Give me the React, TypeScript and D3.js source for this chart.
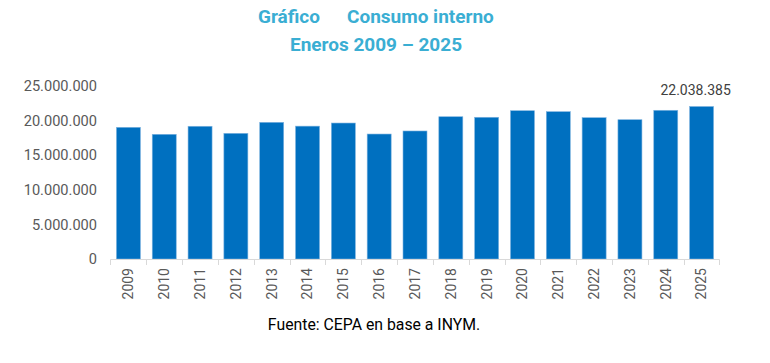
import * as d3 from "d3";

const years = ["2009", "2010", "2011", "2012", "2013", "2014", "2015", "2016", "2017", "2018", "2019", "2020", "2021", "2022", "2023", "2024", "2025"];
const consumo = [19030000, 18020000, 19180000, 18160000, 19750000, 19200000, 19650000, 18060000, 18500000, 20560000, 20480000, 21430000, 21290000, 20420000, 20130000, 21490000, 22038385];
const yTicks = [0, 5000000, 10000000, 15000000, 20000000, 25000000];

const width = 770;
const height = 363;
const font = "Roboto, 'Open Sans', sans-serif";

// separador de miles con punto
const fmt = (v: number) => d3.format(",")(v).replace(/,/g, ".");

export default function App() {
  const x = d3.scaleBand().domain(years).range([110.5, 719.5]).paddingInner(0.33).paddingOuter(0.165);
  const y = d3.scaleLinear().domain([0, 25000000]).range([259, 86]);
  const last = consumo.length - 1;

  return (
    <svg width={width} height={height} style={{ position: "absolute", left: 0, top: 0, background: "#fff" }}>
      <g fontFamily={font} fontWeight="bold" fill="#3aaed3" fontSize={19}>
        <text x={258} y={23}>Gráfico</text>
        <text x={347} y={23}>Consumo interno</text>
        <text x={376} y={51} textAnchor="middle">Eneros 2009 – 2025</text>
      </g>

      {/* eje y */}
      <g fontFamily={font} fontSize={14.6} fill="#595959" textAnchor="end">
        {yTicks.map((t) => (
          <text key={t} x={97} y={y(t)} dy="0.35em">{fmt(t)}</text>
        ))}
      </g>

      {/* barras */}
      <g>
        {consumo.map((v, i) => (
          <rect key={years[i]} x={x(years[i])} y={y(v)} width={x.bandwidth()} height={y(0) - y(v)}
            fill="#0070c0" stroke="#7fb4e0" strokeWidth={0.6} />
        ))}
      </g>

      {/* eje x */}
      <g stroke="#d9d9d9" strokeWidth={1}>
        <line x1={110.5} x2={719.5} y1={259.5} y2={259.5} />
        {years.map((yr) => (
          <line key={yr} x1={Math.round(x(yr)! - x.step() * x.paddingInner() / 2) + 0.5} x2={Math.round(x(yr)! - x.step() * x.paddingInner() / 2) + 0.5} y1={259.5} y2={265} />
        ))}
        <line x1={719.5} x2={719.5} y1={259.5} y2={265} />
      </g>
      <g fontFamily={font} fontSize={14} fill="#595959">
        {years.map((yr) => {
          const cx = x(yr)! + x.bandwidth() / 2;
          return (
            <text key={yr} transform={`translate(${cx},268) rotate(-90)`} textAnchor="end" dy="0.35em">{yr}</text>
          );
        })}
      </g>

      <text x={x(years[last])! + x.bandwidth() / 2 - 6} y={y(consumo[last]) - 11} textAnchor="middle"
        fontFamily={font} fontSize={14} fill="#404040">{fmt(consumo[last])}</text>

      <text x={374} y={330} textAnchor="middle" fontFamily={font} fontSize={15.8} fill="#000">Fuente: CEPA en base a INYM.</text>
    </svg>
  );
}
